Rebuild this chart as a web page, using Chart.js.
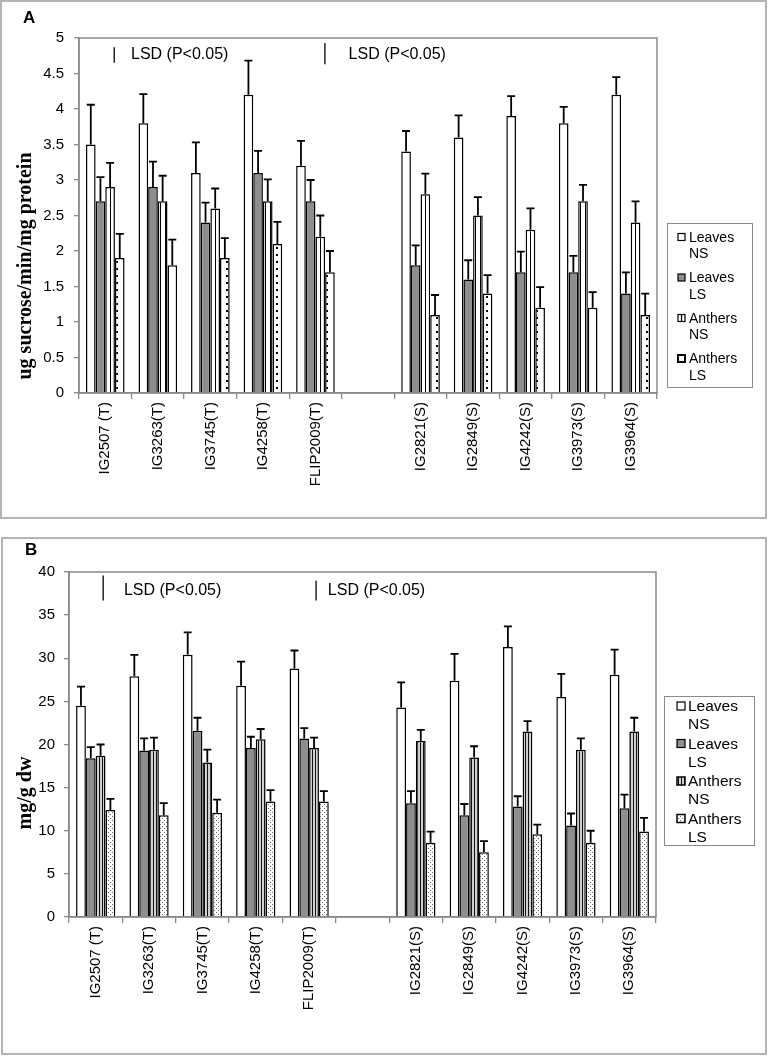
<!DOCTYPE html>
<html>
<head>
<meta charset="utf-8">
<script src="https://cdn.jsdelivr.net/npm/chart.js@4/dist/chart.umd.min.js"></script>
<style>
  body { margin: 0; background: #fff; }
  #page { position: relative; width: 768px; height: 1056px; overflow: hidden; }
  .frame { position: absolute; border: 2px solid #b4b4b4; box-sizing: border-box; }
  canvas { position: absolute; left: 0; }
</style>
</head>
<body>
<div id="page">
  <div class="frame" style="left:0;top:0;width:767px;height:519px"></div>
  <div class="frame" style="left:1px;top:537px;width:766px;height:518px"></div>
  <canvas id="chartA" width="768" height="520" style="top:0"></canvas>
  <canvas id="chartB" width="768" height="520" style="top:536px"></canvas>
</div>
<script>
// === Data ===
const categories = ["IG2507 (T)", "IG3263(T)", "IG3745(T)", "IG4258(T)", "FLIP2009(T)", "",
  "IG2821(S)", "IG2849(S)", "IG4242(S)", "IG3973(S)", "IG3964(S)"];
const seriesNames = [["Leaves", "NS"], ["Leaves", "LS"], ["Anthers", "NS"], ["Anthers", "LS"]];

// Panel A: ug sucrose/min/mg protein
const leavesNS_A = [3.5, 3.8, 3.1, 4.2, 3.2, null, 3.4, 3.6, 3.9, 3.8, 4.2];
const leavesNS_A_err = [0.56, 0.41, 0.43, 0.48, 0.35, null, 0.29, 0.31, 0.28, 0.23, 0.25];
const leavesLS_A = [2.7, 2.9, 2.4, 3.1, 2.7, null, 1.8, 1.6, 1.7, 1.7, 1.4];
const leavesLS_A_err = [0.34, 0.36, 0.28, 0.31, 0.3, null, 0.28, 0.27, 0.29, 0.23, 0.3];
const anthersNS_A = [2.9, 2.7, 2.6, 2.7, 2.2, null, 2.8, 2.5, 2.3, 2.7, 2.4];
const anthersNS_A_err = [0.34, 0.36, 0.28, 0.31, 0.3, null, 0.29, 0.26, 0.3, 0.23, 0.3];
const anthersLS_A = [1.9, 1.8, 1.9, 2.1, 1.7, null, 1.1, 1.4, 1.2, 1.2, 1.1];
const anthersLS_A_err = [0.34, 0.36, 0.28, 0.31, 0.3, null, 0.28, 0.26, 0.29, 0.22, 0.3];

// Panel B: mg/g dw
const leavesNS_B = [24.5, 27.9, 30.4, 26.8, 28.8, null, 24.3, 27.4, 31.3, 25.5, 28.1];
const leavesNS_B_err = [2.2, 2.5, 2.6, 2.8, 2.1, null, 2.9, 3.1, 2.4, 2.7, 2.9];
const leavesLS_B = [18.4, 19.3, 21.6, 19.6, 20.7, null, 13.2, 11.8, 12.8, 10.6, 12.6];
const leavesLS_B_err = [1.3, 1.4, 1.5, 1.3, 1.2, null, 1.4, 1.3, 1.2, 1.4, 1.6];
const anthersNS_B = [18.7, 19.4, 17.9, 20.6, 19.6, null, 20.4, 18.5, 21.5, 19.4, 21.5];
const anthersNS_B_err = [1.3, 1.4, 1.5, 1.2, 1.2, null, 1.3, 1.3, 1.2, 1.3, 1.6];
const anthersLS_B = [12.4, 11.8, 12.1, 13.4, 13.4, null, 8.6, 7.5, 9.6, 8.6, 9.9];
const anthersLS_B_err = [1.3, 1.4, 1.5, 1.3, 1.2, null, 1.3, 1.3, 1.1, 1.4, 1.6];

// LSD markers: category offset of the bar, its value span, where the text sits
const lsd_A = [{ at: 0.17, from: 4.65, to: 4.87, textAt: 0.49, textY: 4.76 },
               { at: 4.18, from: 4.63, to: 4.93, textAt: 4.63, textY: 4.76 }];
const lsd_B = [{ at: 0.14, from: 36.7, to: 39.6, textAt: 0.53, textY: 37.9 },
               { at: 4.13, from: 36.7, to: 39.0, textAt: 4.35, textY: 37.9 }];

// === Fill patterns ===
function tile(w, h, draw) {
  const c = document.createElement("canvas");
  c.width = w; c.height = h;
  const g = c.getContext("2d");
  draw(g);
  return document.createElement("canvas").getContext("2d").createPattern(c, "repeat");
}
const GRAY = "#8e8e8e";
const stripesA = tile(5, 1, g => { g.fillStyle = "#fff"; g.fillRect(0, 0, 5, 1); g.fillStyle = "#000"; g.fillRect(0, 0, 1, 1); });
const squaresA = tile(10, 7, g => { g.fillStyle = "#fff"; g.fillRect(0, 0, 10, 7); g.fillStyle = "#000"; g.fillRect(6, 2, 2, 2); });
const stripesB = tile(3, 1, g => { g.fillStyle = "#d0d0d0"; g.fillRect(0, 0, 3, 1); g.fillStyle = "#111"; g.fillRect(0, 0, 1, 1); });
const dotsB = tile(4, 4, g => { g.fillStyle = "#fff"; g.fillRect(0, 0, 4, 4); g.fillStyle = "#666"; g.fillRect(0, 0, 1, 1); g.fillRect(2, 2, 1, 1); });

// === Extras: error bars, plot frame, LSD, titles, legend ===
const panelExtras = {
  id: "panelExtras",
  afterDatasetsDraw(chart) {
    const ctx = chart.ctx;
    const y = chart.scales.y;
    ctx.save();
    ctx.strokeStyle = "#000";
    ctx.lineWidth = 1.8;
    chart.data.datasets.forEach((ds, di) => {
      chart.getDatasetMeta(di).data.forEach((bar, i) => {
        if (ds.data[i] == null) return;
        const top = y.getPixelForValue(ds.data[i] + ds.errors[i]);
        ctx.beginPath();
        ctx.moveTo(bar.x, bar.y);
        ctx.lineTo(bar.x, top);
        ctx.moveTo(bar.x - 4, top);
        ctx.lineTo(bar.x + 4, top);
        ctx.stroke();
      });
    });
    ctx.restore();
  },
  afterDraw(chart, args, opts) {
    const ctx = chart.ctx;
    const a = chart.chartArea;
    const x = chart.scales.x, y = chart.scales.y;
    ctx.save();

    // plot frame
    ctx.strokeStyle = "#8a8a8a";
    ctx.lineWidth = 1.5;
    ctx.strokeRect(a.left, a.top, a.right - a.left, a.bottom - a.top);

    // LSD markers
    const x0 = x.getPixelForValue(0);
    const slot = x.getPixelForValue(1) - x0;
    ctx.font = "16px 'Liberation Sans', Arial, sans-serif";
    ctx.fillStyle = "#000";
    ctx.textBaseline = "middle";
    ctx.textAlign = "left";
    opts.lsd.forEach(m => {
      const lx = x0 + m.at * slot;
      ctx.strokeStyle = "#000";
      ctx.lineWidth = 1.3;
      ctx.beginPath();
      ctx.moveTo(lx, y.getPixelForValue(m.to));
      ctx.lineTo(lx, y.getPixelForValue(m.from));
      ctx.stroke();
      ctx.fillText("LSD (P<0.05)", x0 + m.textAt * slot, y.getPixelForValue(m.textY));
    });

    // panel letter
    ctx.font = "bold 17px 'Liberation Sans', Arial, sans-serif";
    ctx.fillText(opts.letter, opts.letterPos[0], opts.letterPos[1]);

    // y title
    ctx.save();
    ctx.translate(opts.yTitlePos[0], opts.yTitlePos[1]);
    ctx.rotate(-Math.PI / 2);
    ctx.textAlign = "center";
    ctx.font = "bold 20px 'Liberation Serif', 'Times New Roman', serif";
    ctx.fillText(opts.yTitle, 0, 0);
    ctx.restore();

    // legend
    const L = opts.legend;
    ctx.strokeStyle = "#8a8a8a";
    ctx.lineWidth = 1;
    ctx.strokeRect(L.left + 0.5, L.top + 0.5, L.width, L.height);
    ctx.font = L.font;
    ctx.textAlign = "left";
    chart.data.datasets.forEach((ds, di) => {
      const ry = L.top + L.first + di * L.pair;
      const ix = L.iconX, iy = ry - L.icon / 2;
      ctx.fillStyle = L.iconFills[di];
      ctx.fillRect(ix, iy, L.icon, L.icon);
      ctx.strokeStyle = "#000";
      ctx.lineWidth = L.iconBorder[di];
      ctx.strokeRect(ix, iy, L.icon, L.icon);
      if (L.iconMidLine[di]) {
        ctx.lineWidth = 1.2;
        ctx.beginPath();
        ctx.moveTo(ix + L.icon / 2, iy);
        ctx.lineTo(ix + L.icon / 2, iy + L.icon);
        ctx.stroke();
      }
      ctx.fillStyle = "#000";
      ctx.fillText(ds.label[0], L.textX, ry + 1);
      ctx.fillText(ds.label[1], L.textX, ry + 1 + L.line);
    });
    ctx.restore();
  }
};

// === Chart builder ===
function buildChart(id, p) {
  const datasets = p.series.map((s, i) => ({
    label: seriesNames[i],
    data: s.values,
    errors: s.errors,
    backgroundColor: s.fill,
    borderColor: "#000",
    borderWidth: 1.5,
    categoryPercentage: 0.735,
    barPercentage: 1.0
  }));

  return new Chart(document.getElementById(id), {
    type: "bar",
    data: { labels: categories, datasets },
    plugins: [panelExtras],
    options: {
      responsive: false,
      animation: false,
      layout: { padding: { left: 0, top: p.top, right: p.right, bottom: 0 } },
      plugins: {
        legend: { display: false },
        tooltip: { enabled: false },
        panelExtras: p.extras
      },
      scales: {
        x: {
          grid: { display: true, drawOnChartArea: false, offset: true, color: "#8a8a8a", tickLength: 6, lineWidth: 1.3 },
          border: { color: "#8a8a8a", width: 1.5 },
          ticks: {
            color: "#000", padding: 3, minRotation: 90, maxRotation: 90, autoSkip: false,
            font: { family: "'Liberation Sans', Arial, sans-serif", size: 15 }
          },
          afterFit: s => { s.height = p.xHeight; }
        },
        y: {
          min: 0, max: p.max,
          grid: { display: true, drawOnChartArea: false, color: "#8a8a8a", tickLength: 5, lineWidth: 1.3 },
          border: { color: "#8a8a8a", width: 1.5 },
          ticks: {
            stepSize: p.step, color: "#000", padding: p.tickPad,
            font: { family: "'Liberation Sans', Arial, sans-serif", size: 15 },
            callback: v => String(Math.round(v * 10) / 10)
          },
          afterFit: s => { s.width = p.yWidth; }
        }
      }
    }
  });
}

// === Panel A ===
buildChart("chartA", {
  max: 5, step: 0.5, top: 38, right: 111, xHeight: 127, yWidth: 79, tickPad: 10,
  series: [
    { values: leavesNS_A, errors: leavesNS_A_err, fill: "#fff" },
    { values: leavesLS_A, errors: leavesLS_A_err, fill: GRAY },
    { values: anthersNS_A, errors: anthersNS_A_err, fill: stripesA },
    { values: anthersLS_A, errors: anthersLS_A_err, fill: squaresA }
  ],
  extras: {
    lsd: lsd_A, letter: "A", letterPos: [23, 18],
    yTitle: "ug sucrose/min/mg protein", yTitlePos: [26, 266],
    legend: {
      left: 667, top: 223, width: 85, height: 164, first: 14, pair: 40.5, line: 16.5,
      iconX: 678, icon: 7, textX: 689, font: "14px 'Liberation Sans', Arial, sans-serif",
      iconFills: ["#fff", GRAY, "#fff", "#fff"], iconBorder: [1.2, 1.2, 1.2, 2],
      iconMidLine: [false, false, true, false]
    }
  }
});

// === Panel B ===
buildChart("chartB", {
  max: 40, step: 5, top: 36, right: 112, xHeight: 139, yWidth: 69, tickPad: 9,
  series: [
    { values: leavesNS_B, errors: leavesNS_B_err, fill: "#fff" },
    { values: leavesLS_B, errors: leavesLS_B_err, fill: GRAY },
    { values: anthersNS_B, errors: anthersNS_B_err, fill: stripesB },
    { values: anthersLS_B, errors: anthersLS_B_err, fill: dotsB }
  ],
  extras: {
    lsd: lsd_B, letter: "B", letterPos: [25, 14],
    yTitle: "mg/g dw", yTitlePos: [26, 257],
    legend: {
      left: 664, top: 160, width: 90, height: 149, first: 10, pair: 37.5, line: 18,
      iconX: 677, icon: 8, textX: 688, font: "15.5px 'Liberation Sans', Arial, sans-serif",
      iconFills: ["#fff", GRAY, stripesB, dotsB], iconBorder: [1.2, 1.2, 1.5, 1.5],
      iconMidLine: [false, false, false, false]
    }
  }
});
</script>
</body>
</html>
